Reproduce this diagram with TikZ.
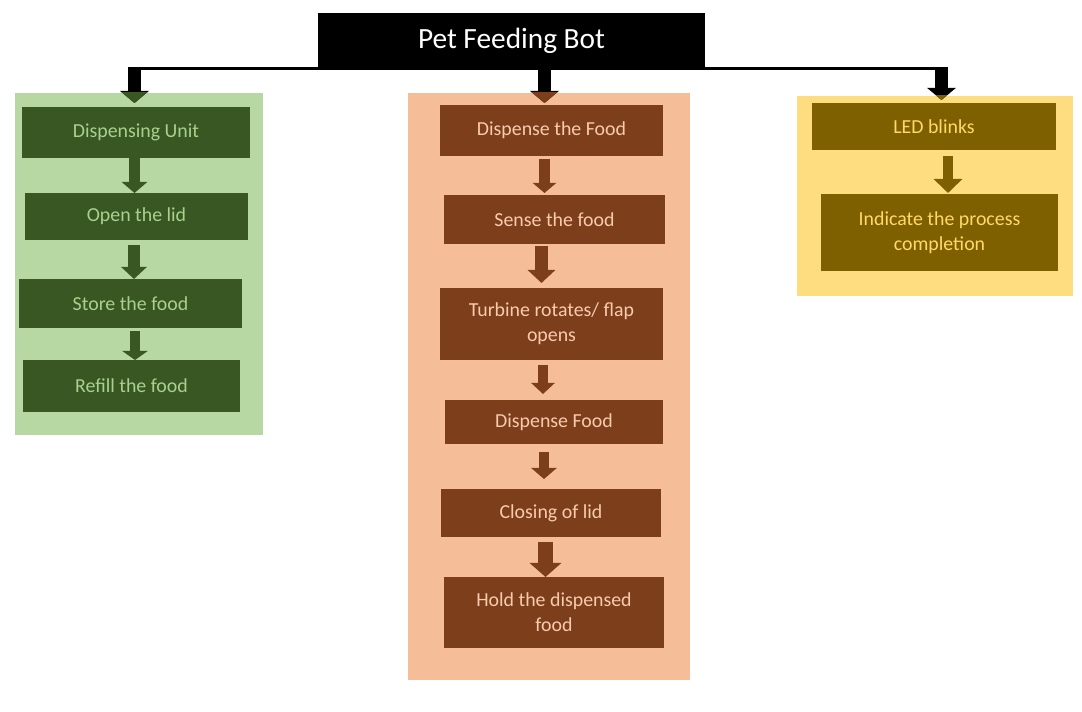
\documentclass[tikz,border=0pt]{standalone}
\usepackage{fontspec}
\setmainfont{Carlito}
\usetikzlibrary{arrows.meta,calc}
\definecolor{gbgc}{HTML}{B7D7A3}
\definecolor{gdark}{HTML}{385723}
\definecolor{gtext}{HTML}{A9D18E}
\definecolor{obgc}{HTML}{F5BD98}
\definecolor{odark}{HTML}{7C3E1B}
\definecolor{otext}{HTML}{F8CBAD}
\definecolor{ybgc}{HTML}{FEDD80}
\definecolor{ydark}{HTML}{7F6000}
\definecolor{ytext}{HTML}{FFD966}
\begin{document}
\begin{tikzpicture}[x=0.75pt,y=-0.75pt,
  sz/.style 2 args={minimum width=0.75pt*#1, minimum height=0.75pt*#2},
  grp/.style={inner sep=0pt, outer sep=0pt, draw=none},
  box/.style={inner sep=0pt, outer sep=0pt, align=center, font=\fontsize{14.9}{18.75}\selectfont},
  gbox/.style={box, fill=gdark, text=gtext},
  obox/.style={box, fill=odark, text=otext},
  ybox/.style={box, fill=ydark, text=ytext},
  ar/.style n args={4}{draw=#1, line width=#2, -{Triangle[width=#3,length=#4]}},
  toparrow/.style={line width=9.75pt, -{Triangle[width=21pt,length=9pt]}},
  hline/.style={line width=2.25pt}
]
\useasboundingbox (0,0) rectangle (1082,712);
\fill[white] (0,0) rectangle (1082,712);

% group backgrounds
\node[grp, fill=gbgc, sz={248}{342}] (gbg) at (139,264) {};
\node[grp, fill=obgc, sz={282}{587}] (obg) at (549,386.5) {};
\node[grp, fill=ybgc, sz={276}{200}] (ybg) at (935,196) {};

% title
\node[inner sep=0pt, outer sep=0pt, fill=black, text=white, sz={387}{56},
      font=\fontsize{22}{26}\selectfont] (title) at (511.5,41) {Pet Feeding Bot};

% green column
\node[gbox, sz={228}{51}] (du) at (136,132.5) {Dispensing Unit};
\node[gbox, sz={223}{47}] (ol) at (136.5,216.5) {Open the lid};
\node[gbox, sz={223}{49}] (sf) at (130.5,303.5) {Store the food};
\node[gbox, sz={217}{52}] (rf) at (131.5,386) {Refill the food};

% orange column
\node[obox, sz={223}{51}] (o1) at (551.5,130.5) {Dispense the Food};
\node[obox, sz={221}{49}] (o2) at (554.5,219.5) {Sense the food};
\node[obox, sz={223}{72}] (o3) at (551.5,324) {Turbine rotates/ flap\\opens};
\node[obox, sz={218}{44}] (o4) at (554,422) {Dispense Food};
\node[obox, sz={220}{48}] (o5) at (551,513) {Closing of lid};
\node[obox, sz={220}{71}] (o6) at (554,612.5) {Hold the dispensed\\food};

% yellow column
\node[ybox, sz={244}{47}] (y1) at (934,126.5) {LED blinks};
\node[ybox, sz={237}{77}] (y2) at (939.5,232.5) {Indicate the process\\completion};

% top connector
\coordinate (gtip) at ($(du.north)+(-1.5,-4)$);
\coordinate (otip) at ($(o1.north)+(-7,-2)$);
\coordinate (ytip) at ($(y1.north)+(7.5,-3)$);
\draw[hline] ($(title.south -| gtip)+(-6.5,0)$) -- ($(title.south -| ytip)+(6.5,0)$);
\draw[toparrow] (title.south -| gtip) -- (gtip);
\draw[toparrow] (title.south -| otip) -- (otip);
\draw[toparrow] (title.south -| ytip) -- (ytip);
\begin{scope}
  \clip (gbg.north west) rectangle (gbg.south east);
  \draw[toparrow, draw=gdark] (title.south -| gtip) -- (gtip);
\end{scope}
\begin{scope}
  \clip (obg.north west) rectangle (obg.south east);
  \draw[toparrow, draw=odark] (title.south -| otip) -- (otip);
\end{scope}
\begin{scope}
  \clip (ybg.north west) rectangle (ybg.south east);
  \draw[toparrow, draw=ydark] (title.south -| ytip) -- (ytip);
\end{scope}

% green arrows
\draw[ar={gdark}{8.25pt}{18.75pt}{8.25pt}] ($(du.south)+(-1.5,0)$) -- ($(ol.north)+(-2,0)$);
\draw[ar={gdark}{9pt}{18.75pt}{9pt}] ($(ol.south)+(-2.5,5)$) -- ($(sf.north)+(3.5,0)$);
\draw[ar={gdark}{7.5pt}{18.75pt}{6.75pt}] ($(sf.south)+(4.5,3)$) -- ($(rf.north)+(3.5,0)$);

% orange arrows
\draw[ar={odark}{8.25pt}{17.25pt}{7.5pt}] ($(o1.south)+(-7,3)$) -- ($(o2.north)+(-10,-2)$);
\draw[ar={odark}{9.75pt}{20.25pt}{9.75pt}] ($(o2.south)+(-13,2)$) -- ($(o3.north)+(-10,-5)$);
\draw[ar={odark}{7.5pt}{17.25pt}{8.25pt}] ($(o3.south)+(-8.5,5)$) -- ($(o4.north)+(-11,-6)$);
\draw[ar={odark}{7.5pt}{18.75pt}{8.25pt}] ($(o4.south)+(-10,8)$) -- ($(o5.north)+(-7,-10)$);
\draw[ar={odark}{11.25pt}{23.25pt}{10.5pt}] ($(o5.south)+(-5.5,5)$) -- ($(o6.north)+(-8.5,0)$);

% yellow arrow
\draw[ar={ydark}{7.5pt}{21pt}{10.5pt}] ($(y1.south)+(14,6)$) -- ($(y2.north)+(8.5,-1)$);
\end{tikzpicture}
\end{document}
